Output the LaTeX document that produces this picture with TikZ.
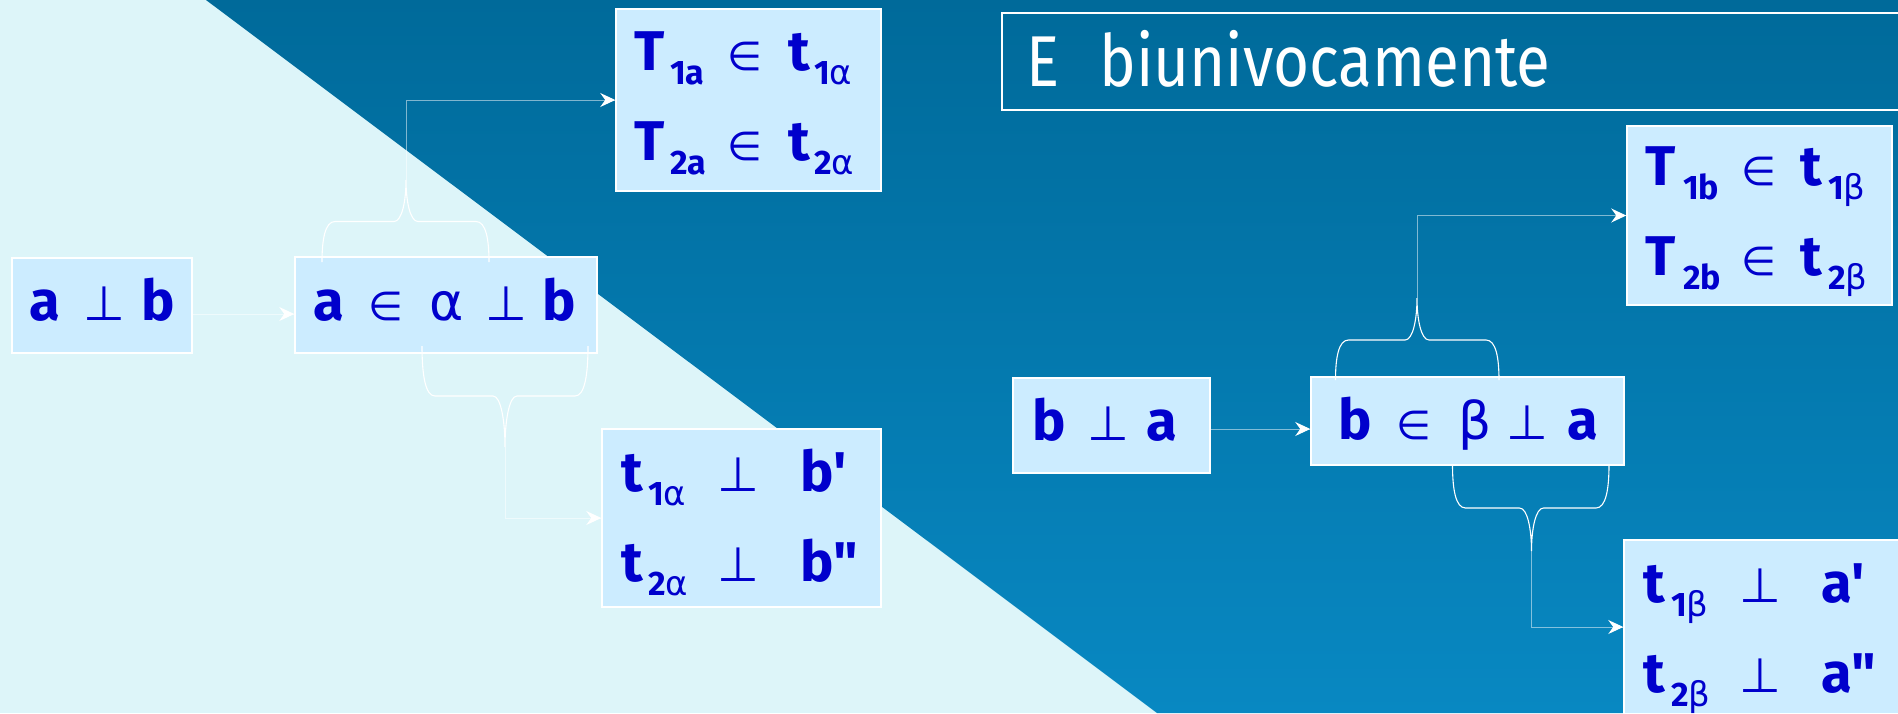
\documentclass[tikz,border=0pt]{standalone}
\usepackage{fontspec}
\setmainfont{Fira Sans}
\newfontfamily\plainf{Fira Sans}
\newfontfamily\symf{DejaVu Sans}
\usetikzlibrary{arrows.meta,calc}
\definecolor{lightbg}{HTML}{DDF5F9}
\definecolor{darktop}{HTML}{006A9A}
\definecolor{darkbot}{HTML}{0888C2}
\definecolor{boxfill}{HTML}{CCECFF}
\definecolor{ink}{HTML}{0000CC}
\newcommand\cell[2]{\makebox[#1pt][l]{#2}}
\newcommand\Bl[1]{{\fontsize{56}{60}\selectfont\bfseries #1}}
\newcommand\Pe{{\symf\fontsize{48}{50}\selectfont ⊥}}
\newcommand\In{{\symf\fontsize{40}{44}\selectfont ∈}}
\newcommand\Gr[1]{{\symf\fontsize{52}{56}\selectfont #1}}
\newcommand\Sub[1]{\raisebox{-14pt}{\fontsize{34}{36}\selectfont\bfseries #1}}
\newcommand\Sg[1]{{\symf\fontsize{34}{36}\selectfont\mdseries #1}}
\newcommand\sq{{\plainf\fontsize{56}{60}\selectfont\bfseries '}}
\newcommand\dq{{\plainf\fontsize{56}{60}\selectfont\bfseries "}}
% brace: xl, xt, xr, yend, yflat, ytip
\newcommand\mybrace[6]{%
  \draw[bracest] (#1,#4) .. controls (#1,{#4+0.55*(#5-#4)}) and ({#1+3},#5) .. ({#1+13},#5)
    -- ({#2-12},#5) .. controls ({#2-4},#5) and (#2,{#5+0.5*(#6-#5)}) .. (#2,#6)
    .. controls (#2,{#5+0.5*(#6-#5)}) and ({#2+4},#5) .. ({#2+12},#5)
    -- ({#3-13},#5) .. controls ({#3-3},#5) and (#3,{#4+0.55*(#5-#4)}) .. (#3,#4);}
\tikzset{
  box/.style={draw=white, line width=1.5pt, fill=boxfill, inner sep=0pt},
  txt/.style={anchor=base west, inner sep=0pt, text=ink},
  conn/.style={draw=white, draw opacity=0.5, line width=1pt},
  tipst/.style={draw=white, line width=1pt, -{Stealth[length=15pt, width=14pt, inset=5pt]}},
  bracest/.style={draw=white, line width=1.1pt},
}
\newcommand\tipto[1]{\draw[tipst] ($(#1)+(-2,0)$) -- (#1);}
\begin{document}
\begin{tikzpicture}[x=1pt,y=-1pt]
\useasboundingbox (0,0) rectangle (1898,713);
\clip (0,0) rectangle (1898,713);
% background
\fill[lightbg] (0,0) rectangle (1898,713);
\shade[top color=darktop, bottom color=darkbot] (206,0) -- (1898,0) -- (1898,713) -- (1157,713) -- cycle;
% title
\node[draw=white, line width=2pt, minimum width=908pt, minimum height=97pt, inner sep=0pt] (title) at (1456,61.5) {};
\node[anchor=base west, inner sep=0pt, text=white] (ttext) at (1026,86) {\fontsize{72}{80}\selectfont\scalebox{0.86}[1]{\cell{85}{E}biunivocamente}};
% boxes
\node[box, minimum width=180pt, minimum height=95pt] (b1) at (102,305.5) {};
\node[box, minimum width=302pt, minimum height=96pt] (b2) at (446,305) {};
\node[box, minimum width=265pt, minimum height=182pt] (b3) at (748.5,100) {};
\node[box, minimum width=279pt, minimum height=178pt] (b4) at (741.5,518) {};
\node[box, minimum width=197pt, minimum height=95pt] (b5) at (1111.5,425.5) {};
\node[box, minimum width=313pt, minimum height=88pt] (b6) at (1467.5,421) {};
\node[box, minimum width=265pt, minimum height=179pt] (b7) at (1759.5,215.5) {};
\node[box, minimum width=286pt, minimum height=174pt] (b8) at (1767,627) {};
% texts
\node[txt] (t1) at (29,320) {\cell{54}{\Bl{a}}\cell{58}{\Pe}\Bl{b}};
\node[txt] (t2) at (313,320) {\cell{55}{\Bl{a}}\cell{61}{\In}\cell{56}{\Gr{α}}\cell{57}{\Pe}\Bl{b}};
\node[txt] (t3a) at (634,70) {\cell{36}{\Bl{T}}\cell{57}{\Sub{1a}}\cell{61}{\In}\cell{26}{\Bl{t}}\Sub{1\Sg{α}}};
\node[txt] (t3b) at (634,160) {\cell{36}{\Bl{T}}\cell{57}{\Sub{2a}}\cell{61}{\In}\cell{26}{\Bl{t}}\Sub{2\Sg{α}}};
\node[txt] (t4a) at (621,491) {\cell{27}{\Bl{t}}\cell{69}{\Sub{1\Sg{α}}}\cell{83}{\Pe}\Bl{b\sq}};
\node[txt] (t4b) at (621,581) {\cell{27}{\Bl{t}}\cell{69}{\Sub{2\Sg{α}}}\cell{83}{\Pe}\Bl{b\dq}};
\node[txt] (t5) at (1032,440) {\cell{55}{\Bl{b}}\cell{59}{\Pe}\Bl{a}};
\node[txt] (t6) at (1338,439) {\cell{58}{\Bl{b}}\cell{62}{\In}\cell{48}{\Gr{β}}\cell{61}{\Pe}\Bl{a}};
\node[txt] (t7a) at (1645,185.5) {\cell{38}{\Bl{T}}\cell{58}{\Sub{1b}}\cell{59}{\In}\cell{28}{\Bl{t}}\Sub{1\Sg{β}}};
\node[txt] (t7b) at (1645,275) {\cell{38}{\Bl{T}}\cell{58}{\Sub{2b}}\cell{59}{\In}\cell{28}{\Bl{t}}\Sub{2\Sg{β}}};
\node[txt] (t8a) at (1643,602) {\cell{28}{\Bl{t}}\cell{68}{\Sub{1\Sg{β}}}\cell{82}{\Pe}\Bl{a\sq}};
\node[txt] (t8b) at (1643,692) {\cell{28}{\Bl{t}}\cell{68}{\Sub{2\Sg{β}}}\cell{82}{\Pe}\Bl{a\dq}};
% braces
\mybrace{322}{406}{489}{262}{221.5}{180}
\mybrace{422}{505}{588}{346}{396}{447}
\mybrace{1335.5}{1417}{1499}{380}{340}{298}
\mybrace{1452.5}{1531.5}{1609}{465}{508}{551}
\coordinate (ka) at (406,180);
\coordinate (kb) at (505,447);
\coordinate (kc) at (1417,298);
\coordinate (kd) at (1531.5,551);
% connectors
\coordinate (e1) at ($(b2.west)+(0,9)$);
\draw[conn] ($(b1.east)+(0,8.5)$) -- (e1); \tipto{e1}
\draw[conn] (ka) |- (b3.west); \tipto{b3.west}
\draw[conn] (kb) |- (b4.west); \tipto{b4.west}
\coordinate (e2) at ($(b6.west)+(0,8)$);
\draw[conn] ($(b5.east)+(0,3.5)$) -- (e2); \tipto{e2}
\draw[conn] (kc) |- (b7.west); \tipto{b7.west}
\draw[conn] (kd) |- (b8.west); \tipto{b8.west}
\end{tikzpicture}
\end{document}
